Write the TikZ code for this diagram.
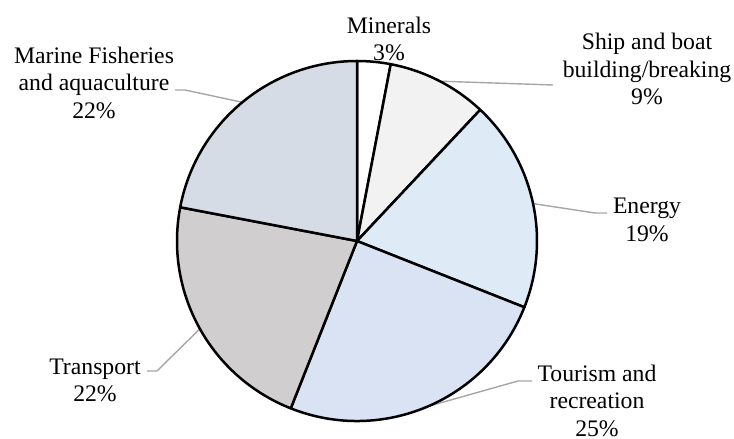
\documentclass[tikz,border=0pt]{standalone}
\usepackage{fontspec}
\setmainfont{Liberation Serif}
\usetikzlibrary{calc}
\definecolor{cMin}{HTML}{FFFFFF}
\definecolor{cShip}{HTML}{F2F2F2}
\definecolor{cEne}{HTML}{DEEBF7}
\definecolor{cTou}{HTML}{DAE3F3}
\definecolor{cTra}{HTML}{D0CECE}
\definecolor{cMar}{HTML}{D6DCE5}
\definecolor{cLead}{HTML}{A6A6A6}
\begin{document}
\begin{tikzpicture}[x=1pt,y=1pt,
  slice/.style={draw=black,line width=2.5pt,line join=round},
  lab/.style={align=center,inner sep=0pt,font=\fontsize{23.7}{27.5}\selectfont},
  leader/.style={draw=cLead,line width=1.4pt}]
\useasboundingbox (0,0) rectangle (734,439);
\coordinate (c) at (357,198);
% leader start points on the circle
\coordinate (pShip) at ($(c)+(62.6:180)$);
\coordinate (pEne) at ($(c)+(12:180)$);
\coordinate (pTou) at ($(c)+(-66.8:180)$);
\coordinate (pTra) at ($(c)+(209.2:180)$);
\coordinate (pMar) at ($(c)+(129.6:180)$);
% labels
\node[lab] (lMin) at (389,400) {Minerals\\3\%};
\node[lab] (lShip) at (647,370) {Ship and boat\\building/breaking\\9\%};
\node[lab] (lEne) at (647,219) {Energy\\19\%};
\node[lab] (lTou) at (597,38.5) {Tourism and\\recreation\\25\%};
\node[lab] (lTra) at (95,58.5) {Transport\\22\%};
\node[lab] (lMar) at (94,356.5) {Marine Fisheries\\and aquaculture\\22\%};
% leader elbows / ends
\coordinate (eShip) at (553,354);
\coordinate (kEne) at (595,226); \coordinate (eEne) at (607,226);
\coordinate (kTou) at (518,58);  \coordinate (eTou) at (532,58);
\coordinate (kTra) at (157,68);  \coordinate (eTra) at (147,68);
\coordinate (kMar) at (185,349); \coordinate (eMar) at (175,349);
\draw[leader] (pShip) -- (eShip);
\draw[leader] (pEne) -- (kEne) -- (eEne);
\draw[leader] (pTou) -- (kTou) -- (eTou);
\draw[leader] (pTra) -- (kTra) -- (eTra);
\draw[leader] (pMar) -- (kMar) -- (eMar);
% slices
\path[slice,fill=cMin]  (c) -- ++(90:180)    arc[start angle=90,end angle=79.2,radius=180] -- cycle;
\path[slice,fill=cShip] (c) -- ++(79.2:180)  arc[start angle=79.2,end angle=46.8,radius=180] -- cycle;
\path[slice,fill=cEne]  (c) -- ++(46.8:180)  arc[start angle=46.8,end angle=-21.6,radius=180] -- cycle;
\path[slice,fill=cTou]  (c) -- ++(-21.6:180) arc[start angle=-21.6,end angle=-111.6,radius=180] -- cycle;
\path[slice,fill=cTra]  (c) -- ++(-111.6:180) arc[start angle=-111.6,end angle=-190.8,radius=180] -- cycle;
\path[slice,fill=cMar]  (c) -- ++(-190.8:180) arc[start angle=-190.8,end angle=-270,radius=180] -- cycle;
\end{tikzpicture}
\end{document}
